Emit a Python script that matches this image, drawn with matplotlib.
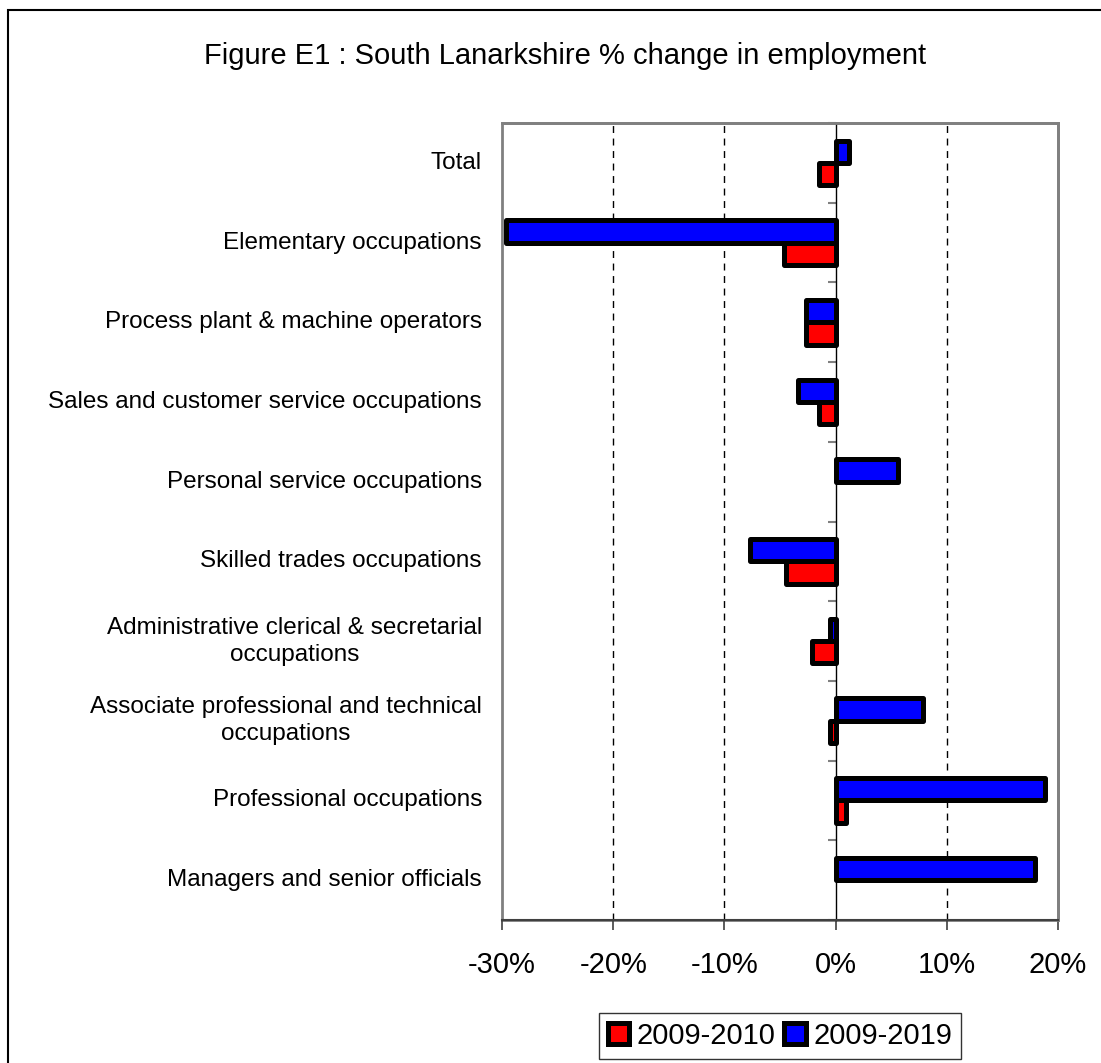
import numpy as np
import matplotlib.pyplot as plt
from matplotlib.patches import Rectangle
from matplotlib.ticker import FuncFormatter

plt.rcParams['font.family'] = ['Liberation Sans', 'DejaVu Sans']

# Data (top to bottom as shown)
categories = [
    "Total",
    "Elementary occupations",
    "Process plant & machine operators",
    "Sales and customer service occupations",
    "Personal service occupations",
    "Skilled trades occupations",
    "Administrative clerical & secretarial\noccupations",
    "Associate professional and technical\noccupations",
    "Professional occupations",
    "Managers and senior officials",
]
change_2009_2010 = [-1.5, -4.6, -2.7, -1.5, 0.0, -4.5, -2.1, -0.5, 0.9, 0.0]
change_2009_2019 = [1.2, -29.6, -2.7, -3.4, 5.6, -7.7, -0.5, 7.9, 18.8, 17.9]
x_ticks = [-30, -20, -10, 0, 10, 20]

W, H = 1101, 1063
fig = plt.figure(figsize=(W / 100, H / 100), dpi=100)
ax = fig.add_axes([502 / W, 1 - 920 / H, (1058 - 502) / W, (920 - 123) / H])

y = np.arange(len(categories))
bh = 0.28
edge = dict(edgecolor="black", linewidth=3.6, joinstyle="round", zorder=3)
b1 = ax.barh(y + bh / 2, change_2009_2010, height=bh, color="#ff0000", label="2009-2010", **edge)
b2 = ax.barh(y - bh / 2, change_2009_2019, height=bh, color="#0000ff", label="2009-2019", **edge)
for bars in (b1, b2):
    for r in bars:
        if r.get_width() == 0:
            r.set_visible(False)

ax.set_xlim(-30, 20)
ax.set_ylim(len(categories) - 0.5, -0.5)

# gridlines
for xv in x_ticks:
    if xv not in (-30, 0, 20):
        ax.axvline(xv, color="black", linewidth=1, linestyle=(0, (5, 4)), zorder=1)

# spines: frame gray, zero line as the category axis
for s in ("top", "right"):
    ax.spines[s].set_color("#808080")
    ax.spines[s].set_linewidth(2)
ax.spines["bottom"].set_color("#404040")
ax.spines["bottom"].set_linewidth(1.5)
ax.spines["left"].set_position(("data", 0))
ax.spines["left"].set_color("black")
ax.spines["left"].set_linewidth(1)
ax.spines["left"].set_zorder(2)
ax.add_patch(Rectangle((0, 0), 1, 1, transform=ax.transAxes, fill=False,
                       edgecolor="#808080", linewidth=2, clip_on=False, zorder=0.5))

# category boundary ticks on the zero line
ax.set_yticks(np.arange(len(categories) + 1) - 0.5)
ax.set_yticklabels([])
ax.tick_params(axis="y", length=6, width=1.5, color="#808080", direction="out")

# category labels at the left of the plot area
for yi, lab in zip(y, categories):
    ax.text(-0.036, yi, lab, transform=ax.get_yaxis_transform(), ha="right", va="center",
            multialignment="center", fontsize=17.5, linespacing=1.3)

ax.set_xticks(x_ticks)
ax.xaxis.set_major_formatter(FuncFormatter(lambda v, p: f"{v:.0f}%"))
ax.tick_params(axis="x", length=7, width=1.2, color="#404040", labelsize=21, pad=15)

fig.text(565 / W, 1 - 56 / H, "Figure E1 : South Lanarkshire % change in employment",
         ha="center", va="center", fontsize=21)

leg = fig.legend(handles=[b1, b2], loc="upper center", bbox_to_anchor=(780 / W, 1 - 1013 / H),
                 ncol=2, fontsize=21, frameon=True, fancybox=False, handlelength=0.75,
                 handleheight=0.75, handletextpad=0.25, columnspacing=0.3, borderpad=0.3,
                 borderaxespad=0)
leg.get_frame().set_edgecolor("black")
leg.get_frame().set_linewidth(1)

# outer chart border
fig.add_artist(Rectangle((8 / W, -0.05), 1.2, 1 - 10 / H + 0.05, transform=fig.transFigure,
                         fill=False, edgecolor="black", linewidth=1.5))

fig.savefig("out.png", dpi=100)
